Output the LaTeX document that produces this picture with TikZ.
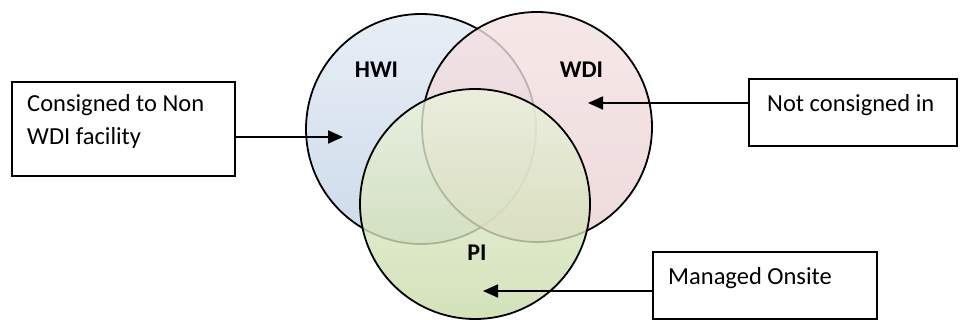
\documentclass[tikz,border=0pt]{standalone}
\usepackage{fontspec}
\setmainfont{Carlito}
\usetikzlibrary{arrows.meta,positioning}

\definecolor{hwitop}{RGB}{226,234,244}
\definecolor{hwibot}{RGB}{193,209,229}
\definecolor{wditop}{RGB}{244,226,226}
\definecolor{wdibot}{RGB}{234,209,211}
\definecolor{pitop}{RGB}{236,241,221}
\definecolor{pibot}{RGB}{201,219,168}

\begin{document}
\begin{tikzpicture}[x=1pt,y=-1pt,>={Triangle[length=15pt,width=13pt]},
    venn/.style={circle,draw,line width=1.8pt,minimum size=230pt,fill opacity=0.8,shading angle=135},
    infobox/.style={draw,line width=1.8pt,inner sep=0pt},
    boxtext/.style={anchor=base west,align=left,inner sep=0pt,font=\fontsize{24.5}{33}\selectfont},
    setname/.style={anchor=base,inner sep=0pt,font=\fontsize{24}{28}\selectfont\bfseries}]
    \useasboundingbox (0,0) rectangle (960,320);

    \node[venn, top color=hwitop, bottom color=hwibot] (hwi) at (421,129) {};
    \node[venn, top color=wditop, bottom color=wdibot] (wdi) at (537,127) {};
    \node[venn, top color=pitop,  bottom color=pibot]  (pi)  at (475,204) {};

    \node[setname] (hwilbl) at (376.5,78) {HWI};
    \node[setname] (wdilbl) at (581.5,78) {WDI};
    \node[setname] (pilbl)  at (477,260)  {PI};

    \node[infobox, minimum width=223pt, minimum height=94pt] (nonwdi)  at (123.5,129) {};
    \node[infobox, minimum width=208pt, minimum height=67pt] (notcons) at (853,112.5) {};
    \node[infobox, minimum width=224pt, minimum height=67pt] (onsite)  at (765,285.5) {};

    % base of a two-line node is its last line
    \node[boxtext] (nonwditxt)  at (27,145)  {Consigned to Non\\WDI facility};
    \node[boxtext] (notconstxt) at (767,112) {Not consigned in};
    \node[boxtext] (onsitetxt)  at (668,284) {Managed Onsite};

    \coordinate (inhwi) at (343,137);
    \coordinate (inwdi) at (588,103);
    \coordinate (inpi)  at (483,291);

    \path[->,line width=1.8pt]
    (nonwdi.east |- inhwi) edge (inhwi)
    (notcons.west |- inwdi) edge (inwdi)
    (onsite.west |- inpi) edge (inpi)
    ;
\end{tikzpicture}
\end{document}
